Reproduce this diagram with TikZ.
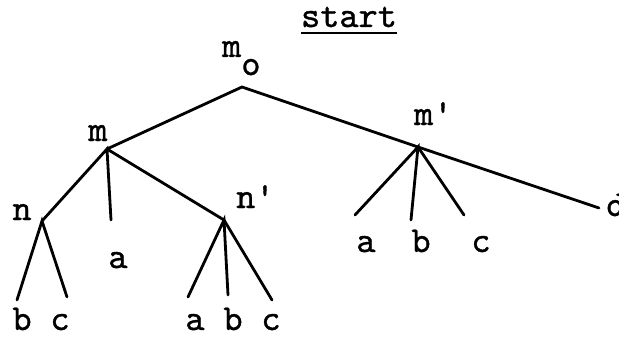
\documentclass[tikz,border=0pt]{standalone}
\usepackage{fontspec}
\newfontfamily\twfont[FakeBold=1.0]{lmmono10-regular.otf}
\begin{document}
\begin{tikzpicture}[x=1pt,y=-1pt,
  lbl/.style={font=\twfont\fontsize{36.5}{37}\selectfont, inner sep=0pt, anchor=base, text depth=0pt},
  edge/.style={line width=2.8pt, line cap=round}]
\useasboundingbox[fill=white] (0,0) rectangle (619,337);
% vertices
\coordinate (R) at (242,87);
\coordinate (M) at (107,149);
\coordinate (M2) at (418,147);
\coordinate (D) at (599,208);
\coordinate (N) at (42,221);
\coordinate (A1) at (111,220);
\coordinate (N2) at (224,220);
\coordinate (Nb) at (17,300);
\coordinate (Nc) at (67,297);
\coordinate (N2a) at (188,297);
\coordinate (N2b) at (228,295);
\coordinate (N2c) at (272,300);
\coordinate (M2a) at (355,215);
\coordinate (M2b) at (411,220);
\coordinate (M2c) at (464,215);
% labels
\node[lbl] (start) at (349,27) {start};
\draw[line width=1.6pt] ([yshift=-6pt]start.base west) -- ([yshift=-6pt]start.base east);
\node[lbl, anchor=base west] (m0) at (222,57) {m\raisebox{-18pt}{o}};
\node[lbl] (lm) at (98,141) {m};
\node[lbl, anchor=base west] (lm2) at (414,125) {m'};
\node[lbl] (ln) at (22,220) {n};
\node[lbl, anchor=base west] (ln2) at (236,208) {n'};
\node[lbl] (la1) at (118,268) {a};
\node[lbl] (lma) at (366,252) {a};
\node[lbl] (lmb) at (421,252) {b};
\node[lbl] (lmc) at (481,252) {c};
\node[lbl] (lnb) at (22,330) {b};
\node[lbl] (lnc) at (60,330) {c};
\node[lbl] (ln2a) at (195,330) {a};
\node[lbl] (ln2b) at (233,330) {b};
\node[lbl] (ln2c) at (271,330) {c};
\node[lbl] (ld) at (616,216) {d};
% edges
\draw[edge] (M) -- (R) -- (M2) -- (D);
\draw[edge] (N) -- (M) -- (A1);
\draw[edge] (M) -- (N2);
\draw[edge] (Nb) -- (N) -- (Nc);
\draw[edge] (N2a) -- (N2) -- (N2b);
\draw[edge] (N2) -- (N2c);
\draw[edge] (M2a) -- (M2) -- (M2b);
\draw[edge] (M2) -- (M2c);
\end{tikzpicture}
\end{document}
